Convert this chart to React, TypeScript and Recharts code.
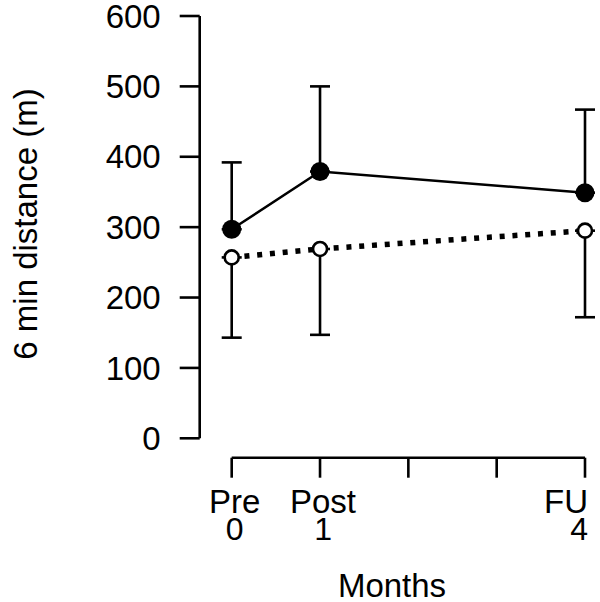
import React from "react";
import { ComposedChart, Line, XAxis, YAxis, ErrorBar, Label } from "recharts";

const months = [0, 1, 4];
const treatment = [297, 379, 349];
const treatmentErrUp = [95, 121, 118];
const control = [257, 269, 295];
const controlErrDown = [114, 122, 123];

const xTicks = [0, 1, 2, 3, 4];
const phaseLabels = ["Pre", "Post", "", "", "FU"];
const monthLabels = ["0", "1", "", "", "4"];
const yTicks = [0, 100, 200, 300, 400, 500, 600];

const data = months.map((m, i) => ({
  month: m,
  treatment: treatment[i],
  treatmentErr: [0, treatmentErrUp[i]],
  control: control[i],
  controlErr: [controlErrDown[i], 0],
}));

const FONT = '"Liberation Sans", Arial, Helvetica, sans-serif';
const FS = 33;
const SW = 2.6;

const XTick = (props: any) => {
  const { x, y, payload } = props;
  const idx = xTicks.indexOf(payload.value);
  const phase = phaseLabels[idx] || "";
  const num = monthLabels[idx] || "";
  const last = idx === xTicks.length - 1;
  const anchor = last ? "end" : "middle";
  const tx = x + 3;
  return (
    <g>
      <text x={tx} y={y + 53} textAnchor={anchor} fontSize={FS} fontFamily={FONT} fill="#000">
        {phase}
      </text>
      <text x={tx} y={y + 80} textAnchor={anchor} fontSize={FS - 1} fontFamily={FONT} fill="#000">
        {num}
      </text>
    </g>
  );
};

export default function App() {
  return (
    <div style={{ position: "absolute", left: 0, top: 0, background: "#fff" }}>
      <ComposedChart
        width={600}
        height={602}
        data={data}
        margin={{ top: 16, right: 15, bottom: 0, left: 0 }}
      >
        <XAxis
          dataKey="month"
          type="number"
          domain={[0, 4]}
          ticks={xTicks}
          interval={0}
          height={163.7}
          tickSize={20}
          tickMargin={2}
          axisLine={{ stroke: "#000", strokeWidth: SW, transform: "translate(0,19.4)" }}
          tickLine={{ stroke: "#000", strokeWidth: SW, transform: "translate(0,19.4)" }}
          tick={<XTick />}
        >
          <Label
            content={() => (
              <text x={392} y={597} textAnchor="middle" fontSize={FS} fontFamily={FONT} fill="#000">
                Months
              </text>
            )}
          />
        </XAxis>
        <YAxis
          type="number"
          domain={[0, 600]}
          ticks={yTicks}
          interval={0}
          width={231.7}
          tickSize={20}
          tickMargin={51}
          axisLine={{ stroke: "#000", strokeWidth: SW, transform: "translate(-32,0)" }}
          tickLine={{ stroke: "#000", strokeWidth: SW, transform: "translate(-32,0)" }}
          tick={{ fontSize: FS, fontFamily: FONT, fill: "#000" }}
        >
          <Label
            content={() => (
              <text
                x={37}
                y={224}
                transform="rotate(-90 37 224)"
                textAnchor="middle"
                fontSize={FS}
                fontFamily={FONT}
                fill="#000"
              >
                6 min distance (m)
              </text>
            )}
          />
        </YAxis>
        <Line
          dataKey="treatment"
          stroke="none"
          dot={false}
          activeDot={false}
          isAnimationActive={false}
        >
          <ErrorBar dataKey="treatmentErr" width={10} stroke="#000" strokeWidth={SW} />
        </Line>
        <Line
          dataKey="control"
          stroke="none"
          dot={false}
          activeDot={false}
          isAnimationActive={false}
        >
          <ErrorBar dataKey="controlErr" width={10} stroke="#000" strokeWidth={SW} />
        </Line>
        <Line
          dataKey="treatment"
          type="linear"
          stroke="#000"
          strokeWidth={2.5}
          dot={{ r: 9.5, fill: "#000", stroke: "#000", strokeWidth: 0 }}
          activeDot={false}
          isAnimationActive={false}
        />
        <Line
          dataKey="control"
          type="linear"
          stroke="#000"
          strokeWidth={5.5}
          strokeDasharray="5 7.8"
          dot={{ r: 7, fill: "#fff", stroke: "#000", strokeWidth: 2.6, strokeDasharray: "0" }}
          activeDot={false}
          isAnimationActive={false}
        />
      </ComposedChart>
    </div>
  );
}
